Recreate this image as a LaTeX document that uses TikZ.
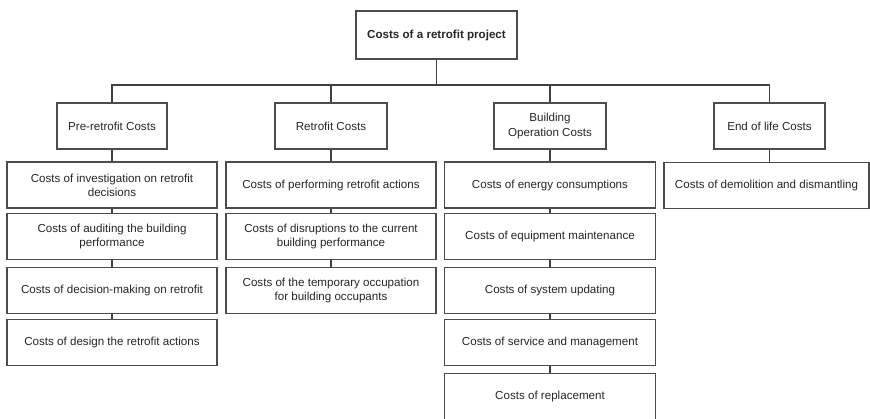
\documentclass[tikz,border=0pt]{standalone}
\usepackage{fontspec}
\setmainfont{Liberation Sans}
\begin{document}
\begin{tikzpicture}[x=1pt,y=-1pt,
  box/.style={draw=black!70, line width=1.6pt, rectangle, align=center,
    inner sep=0pt, text=black!85,
    font=\fontsize{11.6}{14.2}\selectfont},
  headbox/.style={box, minimum height=46pt},
  itembox/.style={box, minimum width=210pt, minimum height=46pt},
  link/.style={draw=black!75, line width=1.8pt}]
\useasboundingbox (0,0) rectangle (870,418);

% root
\node[box, minimum width=161pt, minimum height=48pt,
      font=\fontsize{11.6}{14.2}\selectfont\bfseries] (root) at (436.5,35)
      {Costs of a retrofit project};
\coordinate (bus) at (436.5,85);

% cost categories
\node[headbox, minimum width=110pt] (pre)  at (112,126) {Pre-retrofit Costs};
\node[headbox, minimum width=112pt] (ret)  at (331,126) {Retrofit Costs};
\node[headbox, minimum width=112pt] (ops)  at (550,126) {Building\\Operation Costs};
\node[headbox, minimum width=111pt] (eol)  at (769.5,126) {End of life Costs};

% pre-retrofit items
\node[itembox] (p1) at (112,185)   {Costs of investigation on retrofit\\decisions};
\node[itembox] (p2) at (112,236.5) {Costs of auditing the building\\performance};
\node[itembox] (p3) at (112,290.5) {Costs of decision-making on retrofit};
\node[itembox] (p4) at (112,342.5) {Costs of design the retrofit actions};

% retrofit items
\node[itembox] (r1) at (331,185)   {Costs of performing retrofit actions};
\node[itembox] (r2) at (331,236.5) {Costs of disruptions to the current\\building performance};
\node[itembox] (r3) at (331,290.5) {Costs of the temporary occupation\\for building occupants};

% building operation items
\node[itembox, minimum width=211pt] (o1) at (550,185)   {Costs of energy consumptions};
\node[itembox, minimum width=211pt] (o2) at (550,236.5) {Costs of equipment maintenance};
\node[itembox, minimum width=211pt] (o3) at (550,290.5) {Costs of system updating};
\node[itembox, minimum width=211pt] (o4) at (550,342.5) {Costs of service and management};
\node[itembox, minimum width=211pt] (o5) at (550,396.5) {Costs of replacement};

% end of life item
\node[itembox, minimum width=205pt] (e1) at (766.5,185.5) {Costs of demolition and dismantling};

% tree connectors
\draw[link] (root.south) -- (bus);
\draw[link] (bus) -| (pre.north);
\draw[link] (bus) -| (ret.north);
\draw[link] (bus) -| (ops.north);
\draw[link] (bus) -| (eol.north);

\draw[link] (pre.south) -- (p1.north);
\draw[link] (p1.south) -- (p2.north);
\draw[link] (p2.south) -- (p3.north);
\draw[link] (p3.south) -- (p4.north);

\draw[link] (ret.south) -- (r1.north);
\draw[link] (r1.south) -- (r2.north);
\draw[link] (r2.south) -- (r3.north);

\draw[link] (ops.south) -- (o1.north);
\draw[link] (o1.south) -- (o2.north);
\draw[link] (o2.south) -- (o3.north);
\draw[link] (o3.south) -- (o4.north);
\draw[link] (o4.south) -- (o5.north);

\draw[link] (eol.south) -- (eol.south |- e1.north);
\end{tikzpicture}
\end{document}
